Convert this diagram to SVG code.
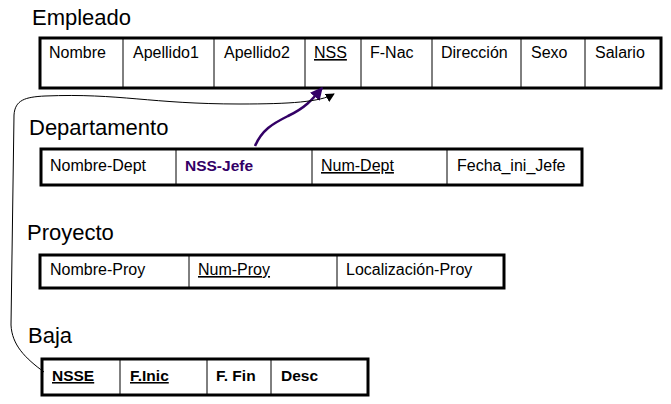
<svg xmlns="http://www.w3.org/2000/svg" width="671" height="404" viewBox="0 0 671 404">
<defs>
<style>
.title{font-family:"Liberation Sans",Arial,sans-serif;font-size:22px;fill:#000}
.cell{font-family:"Liberation Sans",Arial,sans-serif;font-size:16px;fill:#000}
.b{font-weight:bold;font-size:15.5px}
.u{text-decoration:underline}
.box{fill:#fff;stroke:#000;stroke-width:3}
.sep{stroke:#000;stroke-width:1}
</style>
<marker id="ab" viewBox="0 0 10 10" refX="9" refY="5" markerWidth="9" markerHeight="9" orient="auto"><path d="M0,0 L10,5 L0,10 z" fill="#000"/></marker>
<marker id="ap" viewBox="0 0 10 10" refX="9" refY="5" markerWidth="5" markerHeight="5" orient="auto"><path d="M0,0 L10,5 L0,10 z" fill="#330066"/></marker>
</defs>
<rect width="671" height="404" fill="#fff"/>
<g id="empleado">
<text class="title" x="32" y="25">Empleado</text>
<rect class="box" x="40" y="38" width="621" height="50"/>
<g class="sep"><line x1="123" y1="38" x2="123" y2="88"/><line x1="214" y1="38" x2="214" y2="88"/><line x1="305" y1="38" x2="305" y2="88"/><line x1="361" y1="38" x2="361" y2="88"/><line x1="432" y1="38" x2="432" y2="88"/><line x1="521" y1="38" x2="521" y2="88"/><line x1="585" y1="38" x2="585" y2="88"/></g>
<text class="cell" x="49" y="58">Nombre</text>
<text class="cell" x="133" y="58">Apellido1</text>
<text class="cell" x="224" y="58">Apellido2</text>
<text class="cell u" x="314" y="58">NSS</text>
<text class="cell" x="370" y="58">F-Nac</text>
<text class="cell" x="441" y="58">Dirección</text>
<text class="cell" x="531" y="58">Sexo</text>
<text class="cell" x="595" y="58">Salario</text>
</g>
<g id="departamento">
<text class="title" x="29" y="135">Departamento</text>
<rect class="box" x="41" y="149" width="541" height="36"/>
<g class="sep"><line x1="176" y1="149" x2="176" y2="185"/><line x1="312" y1="149" x2="312" y2="185"/><line x1="447" y1="149" x2="447" y2="185"/></g>
<text class="cell" x="50" y="171">Nombre-Dept</text>
<text class="cell b" x="185" y="171" style="fill:#330066">NSS-Jefe</text>
<text class="cell u" x="321" y="171">Num-Dept</text>
<text class="cell" x="457" y="171">Fecha_ini_Jefe</text>
</g>
<g id="proyecto">
<text class="title" x="27" y="240">Proyecto</text>
<rect class="box" x="40" y="255" width="464" height="33"/>
<g class="sep"><line x1="189" y1="255" x2="189" y2="288"/><line x1="337" y1="255" x2="337" y2="288"/></g>
<text class="cell" x="50" y="275">Nombre-Proy</text>
<text class="cell u" x="198" y="275">Num-Proy</text>
<text class="cell" x="346" y="275">Localización-Proy</text>
</g>
<g id="baja">
<text class="title" x="28" y="343">Baja</text>
<rect class="box" x="42" y="359" width="326" height="36"/>
<g class="sep"><line x1="120" y1="359" x2="120" y2="395"/><line x1="207" y1="359" x2="207" y2="395"/><line x1="271" y1="359" x2="271" y2="395"/></g>
<text class="cell b u" x="52" y="381">NSSE</text>
<text class="cell b u" x="130" y="381">F.Inic</text>
<text class="cell b" x="216" y="381">F. Fin</text>
<text class="cell b" x="281" y="381">Desc</text>
</g>
<g id="connectors">
<path d="M255,146 C262,130 272,124 288,116 C305,108 312,100 322,88" fill="none" stroke="#330066" stroke-width="2.5" marker-end="url(#ap)"/>
<path d="M44,372 C25,358 12,345 11,325 L14,115 C15,100 25,97 45,96 C120,93 150,104 240,104 C290,104 320,102 334,94" fill="none" stroke="#000" stroke-width="1" marker-end="url(#ab)"/>
</g>
</svg>
